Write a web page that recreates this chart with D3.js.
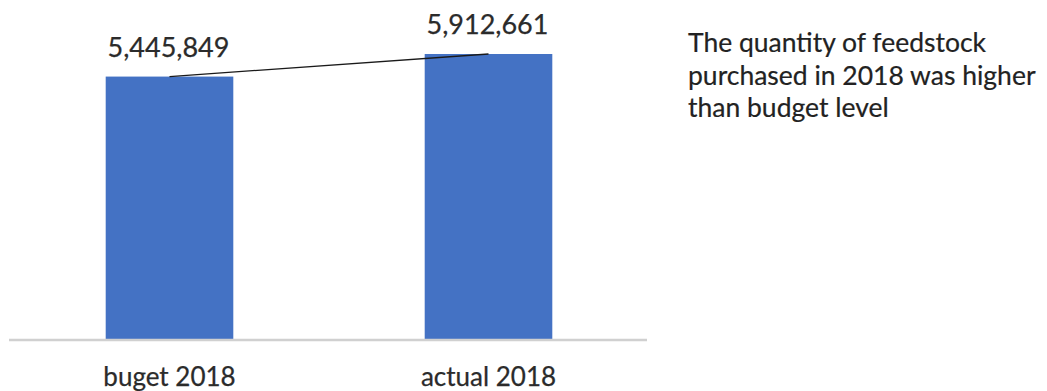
<!DOCTYPE html>
<html>
<head>
<meta charset="utf-8">
<script src="https://cdn.jsdelivr.net/npm/d3@7"></script>
<style>
  html, body { margin: 0; padding: 0; background: #fff; }
  svg { display: block; }
  text { font-family: Lato, "Open Sans", sans-serif; }
</style>
</head>
<body>
<svg id="chart" width="1047" height="391"></svg>
<script>
const categories = ["buget 2018", "actual 2018"];
const values = [5445849, 5912661];
const annotationLines = [
  "The quantity of feedstock",
  "purchased in 2018 was higher",
  "than budget level"
];

const svg = d3.select("#chart");
const axisY = 340;

const x = d3.scaleBand()
  .domain(categories)
  .range([10, 648])
  .paddingInner(0.6)
  .paddingOuter(0.3);

const y = d3.scaleLinear()
  .domain([0, 7000000])
  .range([axisY, axisY - 7000000 * 286 / 5912661]);

const data = categories.map((c, i) => ({ cat: c, val: values[i] }));

// bars
svg.append("g").selectAll("rect")
  .data(data)
  .join("rect")
  .attr("x", d => x(d.cat))
  .attr("y", d => y(d.val))
  .attr("width", x.bandwidth())
  .attr("height", d => y(0) - y(d.val))
  .attr("fill", "#4472C4");

// horizontal axis line (no ticks)
const xAxis = d3.axisBottom(x).tickSize(0).tickPadding(0).tickFormat("");
const gx = svg.append("g").attr("transform", `translate(0,${axisY})`).call(xAxis);
gx.select(".domain").attr("stroke", "#D0D0D0").attr("stroke-width", 2.5)
  .attr("d", `M9,0H647`);

// category labels
svg.append("g").selectAll("text")
  .data(data)
  .join("text")
  .attr("x", d => x(d.cat) + x.bandwidth() / 2)
  .attr("y", 386)
  .attr("text-anchor", "middle")
  .attr("font-size", 26)
  .attr("fill", "#2b2b2b")
  .attr("stroke", "#2b2b2b")
  .attr("stroke-width", 0.25)
  .text(d => d.cat);

// connector line between bar tops
const line = d3.line()
  .x(d => x(d.cat) + x.bandwidth() / 2)
  .y(d => y(d.val));
svg.append("path")
  .datum(data)
  .attr("d", line)
  .attr("fill", "none")
  .attr("stroke", "#1a1a1a")
  .attr("stroke-width", 1.3);

// value labels
const fmt = d3.format(",");
svg.append("g").selectAll("text")
  .data(data)
  .join("text")
  .attr("x", d => x(d.cat) + x.bandwidth() / 2 - 1)
  .attr("y", d => y(d.val) - 20)
  .attr("text-anchor", "middle")
  .attr("font-size", 27)
  .attr("fill", "#2b2b2b")
  .attr("stroke", "#2b2b2b")
  .attr("stroke-width", 0.25)
  .text(d => fmt(d.val));

// annotation
svg.append("g").selectAll("text")
  .data(annotationLines)
  .join("text")
  .attr("x", 688)
  .attr("y", (d, i) => 52 + i * 32.5)
  .attr("font-size", 26.5)
  .attr("fill", "#222")
  .attr("stroke", "#222")
  .attr("stroke-width", 0.2)
  .text(d => d);
</script>
</body>
</html>
